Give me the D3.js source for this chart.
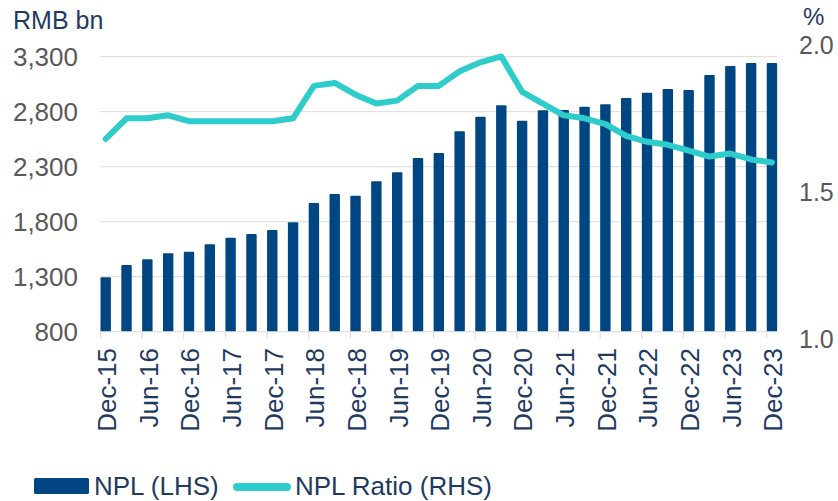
<!DOCTYPE html>
<html>
<head>
<meta charset="utf-8">
<script src="https://cdn.jsdelivr.net/npm/d3@7"></script>
<style>
  body { margin: 0; background: #fff; }
  svg { font-family: "Liberation Sans", Arial, sans-serif; }
</style>
</head>
<body>
<svg id="chart" width="838" height="501"></svg>
<script>
// quarters, Dec-15 .. Dec-23
var quarters = ["Dec-15","Mar-16","Jun-16","Sep-16","Dec-16","Mar-17","Jun-17","Sep-17","Dec-17",
    "Mar-18","Jun-18","Sep-18","Dec-18","Mar-19","Jun-19","Sep-19","Dec-19",
    "Mar-20","Jun-20","Sep-20","Dec-20","Mar-21","Jun-21","Sep-21","Dec-21",
    "Mar-22","Jun-22","Sep-22","Dec-22","Mar-23","Jun-23","Sep-23","Dec-23"]

// NPL balance, RMB bn (LHS)
var npl = [1294,1406,1458,1513,1527,1595,1655,1688,1725,1795,1970,2052,2036,2167,2249,2379,2425,
    2622,2755,2858,2718,2813,2815,2845,2867,2925,2973,3006,2997,3134,3215,3243,3243]

// NPL ratio, % (RHS)
var ratio = [1.68,1.75,1.75,1.76,1.74,1.74,1.74,1.74,1.74,1.75,1.86,1.87,1.83,1.80,1.81,1.86,1.86,
    1.91,1.94,1.96,1.84,1.80,1.76,1.75,1.73,1.69,1.67,1.66,1.64,1.62,1.63,1.61,1.60]

var leftTicks = [800,1300,1800,2300,2800,3300]
var rightTicks = [1.0,1.5,2.0]

var data = quarters.map(function(q,i){ return {q:q, npl:npl[i], ratio:ratio[i]} })

var svg = d3.select("#chart")
var navy = "#004682", teal = "#2ECDCC", grid = "#D9D9D9"

var xScale = d3.scaleBand()
    .domain(quarters)
    .range([95.3, 95.3 + 33*20.82])
    .padding(0)
var bw = xScale.bandwidth()
var cx = function(q){ return xScale(q) + bw/2 }

var yL = d3.scaleLinear().domain([800,3300]).range([331.7,56.7])
var yR = d3.scaleLinear().domain([1,2]).range([339,44.7])

var x0 = xScale(quarters[0]) + bw*0.25
var x1 = xScale(quarters[quarters.length-1]) + bw*0.75

// gridlines
svg.append("g").selectAll("line")
    .data(leftTicks.slice(1))
    .enter().append("line")
      .attr("x1", x0).attr("x2", x1)
      .attr("y1", d => yL(d)).attr("y2", d => yL(d))
      .attr("stroke", grid).attr("stroke-width", 1)

// bars
svg.append("g").selectAll("rect")
    .data(data)
    .enter().append("rect")
      .attr("x", d => xScale(d.q) + bw*0.25)
      .attr("width", bw*0.5)
      .attr("y", d => yL(d.npl))
      .attr("height", d => yL(800) - yL(d.npl))
      .attr("rx", 1)
      .attr("fill", navy)

// bottom axis line + ticks
svg.append("line")
    .attr("x1", x0).attr("x2", x1)
    .attr("y1", yL(800)).attr("y2", yL(800))
    .attr("stroke", grid)
svg.append("g").selectAll("line")
    .data(quarters.filter((q,i) => i%2==0))
    .enter().append("line")
      .attr("x1", d => xScale(d) + bw*0.25).attr("x2", d => xScale(d) + bw*0.25)
      .attr("y1", yL(800)).attr("y2", yL(800)+7)
      .attr("stroke", grid)

// line
var line = d3.line()
    .x(d => cx(d.q))
    .y(d => yR(d.ratio))
svg.append("path")
    .datum(data)
    .attr("d", line)
    .attr("fill", "none")
    .attr("stroke", teal)
    .attr("stroke-width", 6)
    .attr("stroke-linejoin", "round")
    .attr("stroke-linecap", "round")

// x labels
svg.append("g").selectAll("text")
    .data(quarters.filter((q,i) => i%2==0))
    .enter().append("text")
      .attr("transform", d => "translate(" + (cx(d)+1) + ",348) rotate(-90)")
      .attr("text-anchor", "end")
      .attr("dy", "0.36em")
      .style("font-size", "26px")
      .style("fill", "#1F3A5F")
      .text(d => d)

// left axis labels
svg.append("g").selectAll("text")
    .data(leftTicks)
    .enter().append("text")
      .attr("x", 78)
      .attr("y", d => yL(d))
      .attr("dy", "0.36em")
      .attr("text-anchor", "end")
      .style("font-size", "26px")
      .style("fill", "#595959")
      .text(d => d3.format(",")(d))

// right axis labels
svg.append("g").selectAll("text")
    .data(rightTicks)
    .enter().append("text")
      .attr("x", 799)
      .attr("y", d => yR(d))
      .attr("dy", "0.36em")
      .style("font-size", "25px")
      .style("fill", "#595959")
      .text(d => d3.format(".1f")(d))

// axis titles
svg.append("text").attr("x", 13).attr("y", 29)
    .style("font-size", "25px").style("fill", "#1F3A5F").text("RMB bn")
svg.append("text").attr("x", 803).attr("y", 25)
    .style("font-size", "24px").style("fill", "#1F3A5F").text("%")

// legend
var lg = svg.append("g")
lg.append("rect").attr("x", 34).attr("y", 478).attr("width", 55).attr("height", 16)
    .attr("rx", 1.5).attr("fill", navy)
lg.append("text").attr("x", 94).attr("y", 495)
    .style("font-size", "26px").style("fill", "#1F3A5F").text("NPL (LHS)")
lg.append("line").attr("x1", 237).attr("x2", 287).attr("y1", 487).attr("y2", 487)
    .attr("stroke", teal).attr("stroke-width", 8).attr("stroke-linecap", "round")
lg.append("text").attr("x", 295).attr("y", 495)
    .style("font-size", "26px").style("fill", "#1F3A5F").text("NPL Ratio (RHS)")
</script>
</body>
</html>
